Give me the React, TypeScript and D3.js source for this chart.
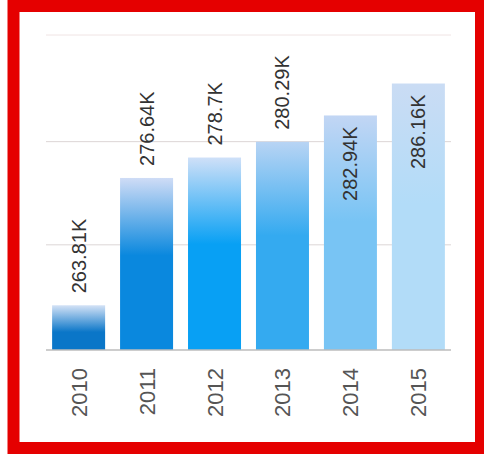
import React from "react";
import * as d3 from "d3";

const years = ["2010", "2011", "2012", "2013", "2014", "2015"];
const values = [263.81, 276.64, 278.7, 280.29, 282.94, 286.16];
const valueLabels = ["263.81K", "276.64K", "278.7K", "280.29K", "282.94K", "286.16K"];
const baseColors = ["#0a76c8", "#0a88de", "#08a0f4", "#34aaf0", "#78c4f4", "#b2dcf8"];
const topColors = ["#d4e2f6", "#cfdcf6", "#cfe0f8", "#b8d4f4", "#c2d6f4", "#cadcf4"];
const gridValues = [269.9, 280.3, 291.05];
const yDomain = [259.3, 291.05];

const W = 484;
const H = 457;

export default function App() {
  const x = d3.scaleBand<string>().domain(years).range([46, 451]).paddingInner(0.22).paddingOuter(0.09);
  const y = d3.scaleLinear().domain(yDomain).range([350, 35]);
  const base = y(yDomain[0]);
  const font = "'Liberation Sans', Arial, sans-serif";

  return (
    <svg width={W} height={H} style={{ position: "absolute", left: 0, top: 0, background: "#fff" }}>
      <defs>
        {years.map((yr, i) => (
          <linearGradient key={yr} id={`g${i}`} x1="0" y1="0" x2="0" y2="1">
            <stop offset="0" stopColor={topColors[i]} />
            <stop offset={i === 0 ? "0.6" : "0.45"} stopColor={baseColors[i]} />
            <stop offset="1" stopColor={baseColors[i]} />
          </linearGradient>
        ))}
      </defs>
      <rect x={0} y={0} width={W} height={H} fill="#fff" />
      {gridValues.map((g, i) => (
        <line key={i} x1={46} x2={451} y1={y(g)} y2={y(g)} stroke={i === gridValues.length - 1 ? "#f0e4e4" : "#dcd6d6"} strokeWidth={1} />
      ))}
      {years.map((yr, i) => {
        const top = y(values[i]);
        return (
          <rect key={yr} x={x(yr)} y={top} width={x.bandwidth()} height={base - top} fill={`url(#g${i})`} />
        );
      })}
      <line x1={46} x2={451} y1={base} y2={base} stroke="#bcbcbc" strokeWidth={1.5} />
      {years.map((yr, i) => {
        const cx = (x(yr) as number) + x.bandwidth() / 2;
        const top = y(values[i]);
        const inside = i >= 4;
        const ty = inside ? top + 11 : top - 12;
        return (
          <text
            key={yr}
            transform={`translate(${cx + 7},${ty}) rotate(-90)`}
            textAnchor={inside ? "end" : "start"}
            fontFamily={font}
            fontSize={20}
            fill="#333"
          >
            {valueLabels[i]}
          </text>
        );
      })}
      {years.map((yr) => {
        const cx = (x(yr) as number) + x.bandwidth() / 2;
        return (
          <text
            key={yr}
            transform={`translate(${cx + 8},${base + 18}) rotate(-90)`}
            textAnchor="end"
            fontFamily={font}
            fontSize={22}
            fill="#555"
          >
            {yr}
          </text>
        );
      })}
      <rect x={13.5} y={6} width={467.5} height={442} fill="none" stroke="#e50000" strokeWidth={12} />
    </svg>
  );
}
